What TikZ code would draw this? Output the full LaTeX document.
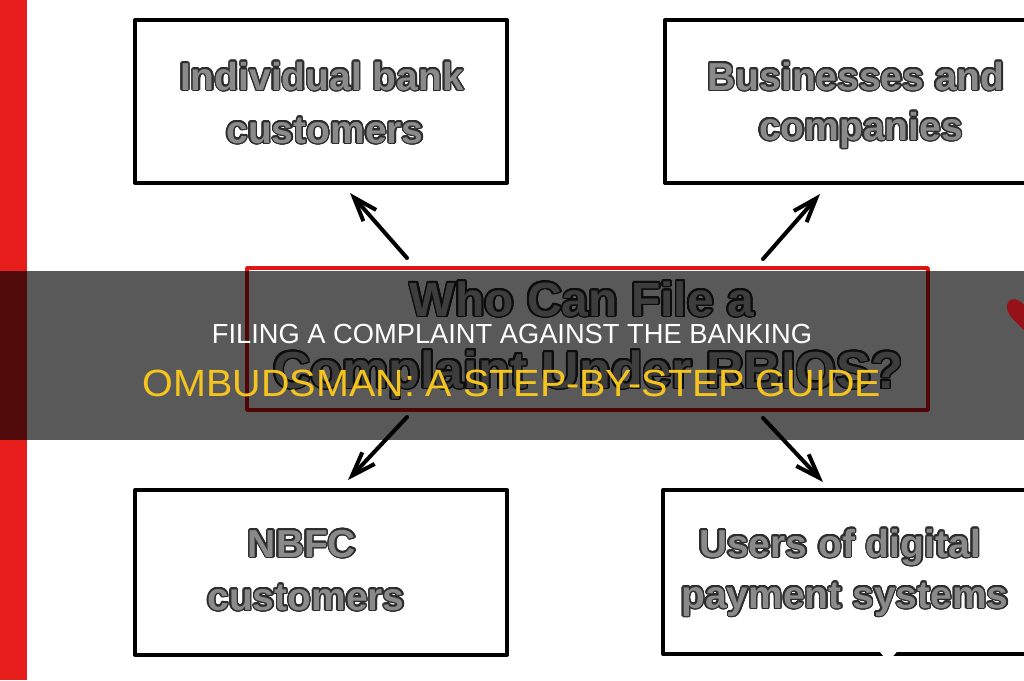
\documentclass[tikz,border=0pt]{standalone}
\usepackage{fontspec}
\setmainfont{Liberation Sans}
\usepackage{contour}
\usetikzlibrary{arrows.meta}
\contournumber{24}
\definecolor{bandred}{RGB}{232,30,28}
\definecolor{boxfill}{RGB}{138,138,138}
\definecolor{boxline}{RGB}{45,45,45}
\definecolor{cfill}{RGB}{176,176,176}
\definecolor{cline}{RGB}{40,40,40}
\definecolor{frame}{RGB}{225,20,20}
\definecolor{heartred}{RGB}{150,18,24}
\definecolor{gold}{RGB}{246,196,30}
\begin{document}
\begin{tikzpicture}[x=1pt,y=-1pt,
  box/.style={draw=black, line width=4pt, line join=round, rectangle, inner sep=0pt},
  redbox/.style={draw=frame, line width=3.5pt, line join=round, rectangle, inner sep=0pt},
  lbl/.style={anchor=base, inner sep=0pt, text=boxfill, font=\bfseries\fontsize{39}{47}\selectfont},
  clbl/.style={anchor=base, inner sep=0pt, text=cfill},
  arr/.style={line width=4pt, line cap=round, line join=round, -{Straight Barb[length=24pt,width=17pt]}},
  title/.style={anchor=base, inner sep=0pt}]
\useasboundingbox (0,0) rectangle (1024,680);
\clip (0,0) rectangle (1024,680);
\fill[white] (0,0) rectangle (1024,680);
\fill[bandred] (0,0) rectangle (27,680);

% outer boxes
\node[box, minimum width=372pt, minimum height=163pt] (b1) at (321,101.5) {};
\node[box, minimum width=375pt, minimum height=163pt] (b2) at (852.5,101.5) {};
\node[box, minimum width=372pt, minimum height=165pt] (b3) at (321,572.5) {};
\node[box, minimum width=377pt, minimum height=164pt] (b4) at (851.5,572) {};
\fill[white] (876,647) -- (901,647) -- (888,662) -- cycle;

% box texts
\contourlength{1.4pt}
\node[lbl] (t1a) at (322,90) {\contour{boxline}{Individual bank}};
\node[lbl] (t1b) at (325,143) {\contour{boxline}{customers}};
\node[lbl] (t2a) at (856,90) {\contour{boxline}{Businesses and}};
\node[lbl] (t2b) at (861,140) {\contour{boxline}{companies}};
\node[lbl] (t3a) at (302,557) {\contour{boxline}{NBFC}};
\node[lbl] (t3b) at (306,610) {\contour{boxline}{customers}};
\node[lbl] (t4a) at (840,557) {\contour{boxline}{Users of digital}};
\node[lbl] (t4b) at (845,608) {\contour{boxline}{payment systems}};

% centre box
\node[redbox, minimum width=681pt, minimum height=142pt] (cbox) at (587.5,339) {};
\contourlength{1.8pt}
\node[clbl, font=\bfseries\fontsize{48}{56}\selectfont] (c1) at (582,316) {\contour{cline}{Who Can File a}};
\node[clbl, font=\bfseries\fontsize{52}{60}\selectfont] (c2) at (588,388) {\contour{cline}{Complaint Under RBIOS?}};

% arrows
\coordinate (a1s) at (407,258); \coordinate (a1e) at (350,193);
\coordinate (a2s) at (763,259); \coordinate (a2e) at (820,194);
\coordinate (a3s) at (407,417); \coordinate (a3e) at (348,480);
\coordinate (a4s) at (763,418); \coordinate (a4e) at (823,482);
\draw[arr] (a1s) -- (a1e);
\draw[arr] (a2s) -- (a2e);
\draw[arr] (a3s) -- (a3e);
\draw[arr] (a4s) -- (a4e);

% title overlay
\fill[black, opacity=0.65] (0,271) rectangle (1024,440);
\fill[heartred] (1024,305) .. controls (1017,296) and (1006,298) .. (1007,308) .. controls (1008,316) and (1016,322) .. (1024,330) -- cycle;
\node[title, text=white] (h1) at (512,343) {\resizebox{600pt}{19.3pt}{FILING A COMPLAINT AGAINST THE BANKING}};
\node[title, text=gold] (h2) at (512,396) {\resizebox{738pt}{26.5pt}{OMBUDSMAN: A STEP-BY-STEP GUIDE}};
\end{tikzpicture}
\end{document}
